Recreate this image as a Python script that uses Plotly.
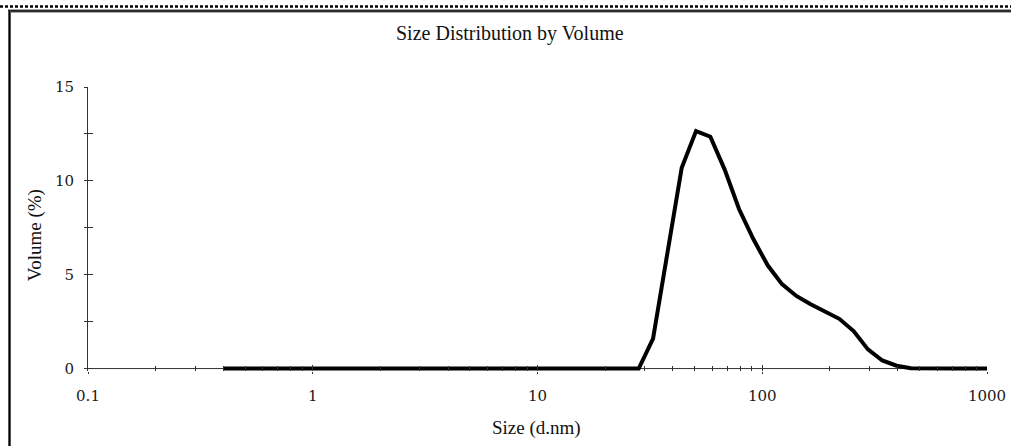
import plotly.graph_objects as go

# Size bins (d.nm) and volume (%)
sizes = [0.4, 0.4632, 0.5365, 0.6213, 0.7195, 0.8332, 0.9649, 1.117, 1.294, 1.499,
         1.736, 2.01, 2.328, 2.696, 3.122, 3.615, 4.187, 4.849, 5.615, 6.503,
         7.531, 8.721, 10.1, 11.7, 13.54, 15.69, 18.17, 21.04, 24.36, 28.21,
         32.67, 37.84, 43.82, 50.75, 58.77, 68.06, 78.82, 91.28, 105.7, 122.4,
         141.8, 164.2, 190.1, 220.2, 255.0, 295.3, 342.0, 396.1, 458.7, 531.2,
         615.1, 712.4, 825.0, 955.4, 1106]
volume = [0, 0, 0, 0, 0, 0, 0, 0, 0, 0,
          0, 0, 0, 0, 0, 0, 0, 0, 0, 0,
          0, 0, 0, 0, 0, 0, 0, 0, 0, 0,
          1.6, 6.2, 10.7, 12.65, 12.35, 10.6, 8.5, 6.9, 5.5, 4.5,
          3.87, 3.43, 3.05, 2.65, 2.0, 1.02, 0.43, 0.15, 0.02, 0,
          0, 0, 0, 0, 0]

x_tickvals = [0.1, 1, 10, 100, 1000]
x_ticktext = ["0.1", "1", "10", "100", "1000"]
y_tickvals = [0, 2.5, 5, 7.5, 10, 12.5, 15]
y_ticktext = ["0", "", "5", "", "10", "", "15"]

W, H = 1011, 446
L, R, T = 88, 24, 87
Y0_PX = 368.3          # pixel row of y = 0
YMAX = 15
YMIN = -0.13           # small pad so the thick zero line is not clipped
unit = (Y0_PX - T) / YMAX
ph = (YMAX - YMIN) * unit
B = H - T - ph
pw = W - L - R


def px(x):
    return (x - L) / pw


def py(y):
    return (T + ph - y) / ph


fig = go.Figure()
fig.add_trace(go.Scatter(x=sizes, y=volume, mode="lines",
                         line=dict(color="black", width=4), showlegend=False,
                         hoverinfo="x+y"))
# invisible trace to anchor overlay axes
fig.add_trace(go.Scatter(x=[sizes[0]], y=[0], xaxis="x2", yaxis="y2", mode="markers",
                         marker=dict(opacity=0), showlegend=False, hoverinfo="skip"))

tickfont = dict(family="DejaVu Serif", size=15, color="#1a1a1a")
fig.update_layout(
    width=W, height=H,
    margin=dict(l=L, r=R, t=T, b=B, autoexpand=False),
    plot_bgcolor="white", paper_bgcolor="white",
    xaxis=dict(type="log", range=[-1, 3], tickvals=x_tickvals, ticktext=x_ticktext,
               ticks="inside", ticklen=6, tickcolor="#333", tickwidth=1,
               showline=False, showgrid=False,
               zeroline=False, tickfont=tickfont, ticklabelstandoff=14,
               minor=dict(dtick="D1", ticks="inside", ticklen=5, tickcolor="#333",
                          showgrid=False)),
    xaxis2=dict(type="log", range=[-1, 3], overlaying="x", tickvals=x_tickvals,
                ticks="outside", ticklen=2, tickcolor="#333", showticklabels=False,
                showline=False, showgrid=False, zeroline=False),
    yaxis=dict(range=[YMIN, YMAX], tickvals=y_tickvals, ticktext=y_ticktext,
               ticks="inside", ticklen=5, tickcolor="#333", tickwidth=1,
               showline=True, linecolor="#333", linewidth=1, showgrid=False,
               zeroline=False, tickfont=tickfont, ticklabelstandoff=10),
    yaxis2=dict(range=[YMIN, YMAX], overlaying="y", tickvals=y_tickvals,
                ticks="outside", ticklen=3, tickcolor="#333", showticklabels=False,
                showline=False, showgrid=False, zeroline=False),
    annotations=[
        dict(text="Size Distribution by Volume", xref="paper", yref="paper",
             x=px(510), y=py(34), showarrow=False, xanchor="center", yanchor="middle",
             font=dict(family="Liberation Serif", size=20, color="#111")),
        dict(text="Volume (%)", xref="paper", yref="paper",
             x=px(35), y=py(235), showarrow=False, textangle=-90,
             xanchor="center", yanchor="middle",
             font=dict(family="Liberation Serif", size=19, color="#111")),
        dict(text="Size (d.nm)", xref="paper", yref="paper",
             x=px(536), y=py(428), showarrow=False, xanchor="center", yanchor="middle",
             font=dict(family="Liberation Serif", size=19, color="#111")),
    ],
    shapes=[
        # x axis line at y = 0
        dict(type="line", xref="x", yref="y", x0=0.1, x1=1000, y0=0, y1=0,
             layer="below", line=dict(color="#333", width=1)),
        # dotted line on top
        dict(type="line", xref="paper", yref="paper", x0=px(0), x1=px(W),
             y0=py(6.5), y1=py(6.5), line=dict(color="black", width=2.5, dash="3px,2px")),
        # frame top
        dict(type="line", xref="paper", yref="paper", x0=px(8), x1=px(W),
             y0=py(11), y1=py(11), line=dict(color="#555", width=3)),
        dict(type="line", xref="paper", yref="paper", x0=px(8), x1=px(W),
             y0=py(11), y1=py(11), line=dict(color="black", width=1)),
        # frame left
        dict(type="line", xref="paper", yref="paper", x0=px(9.5), x1=px(9.5),
             y0=py(11), y1=py(H), line=dict(color="#555", width=3)),
        dict(type="line", xref="paper", yref="paper", x0=px(9.5), x1=px(9.5),
             y0=py(11), y1=py(H), line=dict(color="black", width=1)),
    ],
)

fig.write_html("out.html",
               config={"displayModeBar": False},
               post_script="document.body.style.margin='0';"
                           "document.body.style.padding='0';"
                           "document.body.style.overflow='hidden';")
